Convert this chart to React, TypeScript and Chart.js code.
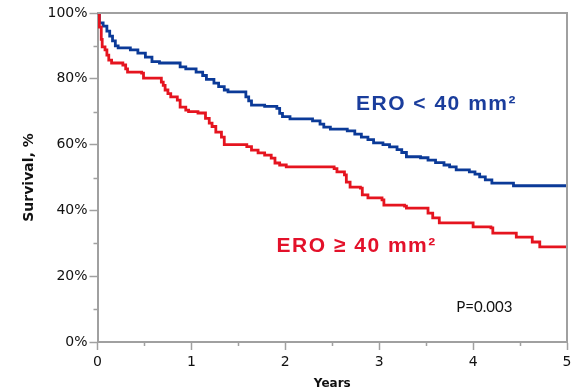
import React, { useEffect, useRef } from 'react';
import { Chart, registerables } from 'chart.js';

Chart.register(...registerables);

// Kaplan-Meier steps: time (years) of each drop and survival (%) after it
const blueTimes = [0, 0.02, 0.06, 0.10, 0.13, 0.16, 0.19, 0.22, 0.35, 0.43, 0.51, 0.58, 0.66, 0.88, 0.94, 1.05, 1.12, 1.16, 1.24, 1.29, 1.35, 1.39, 1.58, 1.61, 1.64, 1.78, 1.91, 1.94, 1.97, 2.05, 2.29, 2.37, 2.41, 2.48, 2.66, 2.74, 2.81, 2.88, 2.94, 3.04, 3.11, 3.19, 3.24, 3.29, 3.44, 3.52, 3.60, 3.69, 3.75, 3.82, 3.96, 4.02, 4.07, 4.13, 4.20, 4.43, 5.0];
const blueSurvival = [100, 97.0, 96.0, 94.5, 93.0, 91.5, 90.0, 89.4, 88.8, 87.8, 86.6, 85.2, 84.8, 83.6, 83.0, 82.0, 81.0, 79.8, 78.7, 77.6, 76.6, 76.0, 74.5, 73.3, 72.0, 71.6, 71.0, 69.5, 68.5, 67.8, 67.2, 66.2, 65.3, 64.7, 64.2, 63.2, 62.3, 61.5, 60.5, 60.0, 59.3, 58.5, 57.6, 56.3, 56.0, 55.3, 54.5, 53.8, 53.2, 52.3, 51.7, 51.0, 50.2, 49.3, 48.3, 47.5, 47.5];

const redTimes = [0, 0.02, 0.04, 0.05, 0.08, 0.10, 0.12, 0.15, 0.27, 0.30, 0.32, 0.47, 0.49, 0.68, 0.70, 0.72, 0.75, 0.78, 0.85, 0.88, 0.94, 0.97, 1.07, 1.15, 1.19, 1.22, 1.26, 1.32, 1.35, 1.59, 1.64, 1.71, 1.78, 1.85, 1.89, 1.94, 2.01, 2.52, 2.55, 2.63, 2.65, 2.69, 2.80, 2.82, 2.88, 3.03, 3.05, 3.27, 3.29, 3.52, 3.57, 3.64, 4.00, 4.19, 4.21, 4.46, 4.63, 4.71, 5.0];
const redSurvival = [100, 95.7, 92.0, 89.7, 88.8, 87.2, 85.7, 84.8, 84.2, 83.0, 82.0, 81.7, 80.2, 79.0, 78.0, 76.6, 75.5, 74.5, 73.5, 71.4, 70.5, 70.0, 69.6, 68.0, 66.5, 65.5, 63.8, 62.3, 60.0, 59.4, 58.3, 57.5, 56.8, 55.9, 54.4, 53.8, 53.2, 52.7, 51.7, 50.8, 48.6, 47.1, 46.8, 44.7, 43.8, 43.2, 41.6, 41.3, 40.7, 39.2, 37.7, 36.2, 35.0, 34.7, 33.1, 31.9, 30.4, 28.9, 28.9];

const xTickValues = [0, 1, 2, 3, 4, 5];
const yTickValues = [0, 20, 40, 60, 80, 100];
const yMinorTicks = [10, 30, 50, 70, 90];
const xMinorTicks = [0.5, 1.5, 2.5, 3.5, 4.5];

const seriesLabels = ['ERO < 40 mm²', 'ERO ≥ 40 mm²'];
const pValueText = 'P=0.003';

const BLUE = '#0b3a98';
const RED = '#e5141f';
const AXIS = '#a0a0a0';

const labelNotes = [
  { text: seriesLabels[0], x: 3.61, y: 72.3, color: '#1a3d9c', font: 'bold 21px "Liberation Sans"', spacing: '1.5px' },
  { text: seriesLabels[1], x: 2.76, y: 29.2, color: '#e3112a', font: 'bold 21px "Liberation Sans"', spacing: '1.5px' },
  { text: pValueText, x: 4.12, y: 10.6, color: '#111111', font: '15px Lato', spacing: '0px' },
];

const toPoints = (times: number[], vals: number[]) => times.map((t, i) => ({ x: t, y: vals[i] }));

const framePlugin = {
  id: 'frameAndNotes',
  afterDraw(chart: any) {
    const { ctx, chartArea, scales } = chart;
    const xs = scales.x;
    const ys = scales.y;
    ctx.save();
    ctx.strokeStyle = AXIS;
    ctx.lineWidth = 2;
    ctx.beginPath();
    ctx.moveTo(chartArea.left, chartArea.top);
    ctx.lineTo(chartArea.right, chartArea.top);
    ctx.lineTo(chartArea.right, chartArea.bottom);
    ctx.stroke();
    ctx.lineWidth = 1.5;
    ctx.beginPath();
    yMinorTicks.forEach((v) => {
      const py = Math.round(ys.getPixelForValue(v)) + 0.5;
      ctx.moveTo(chartArea.left - 4, py);
      ctx.lineTo(chartArea.left, py);
    });
    xMinorTicks.forEach((v) => {
      const px = Math.round(xs.getPixelForValue(v)) + 0.5;
      ctx.moveTo(px, chartArea.bottom);
      ctx.lineTo(px, chartArea.bottom + 4);
    });
    ctx.stroke();
    labelNotes.forEach((n) => {
      ctx.font = n.font;
      (ctx as any).letterSpacing = n.spacing;
      ctx.fillStyle = n.color;
      ctx.textAlign = 'center';
      ctx.textBaseline = 'middle';
      ctx.fillText(n.text, xs.getPixelForValue(n.x), ys.getPixelForValue(n.y));
    });
    ctx.restore();
  },
};

export default function App() {
  const ref = useRef<HTMLCanvasElement | null>(null);
  useEffect(() => {
    document.body.style.margin = '0';
    const canvas = ref.current;
    if (!canvas) return;
    const chart = new Chart(canvas, {
      type: 'scatter',
      data: {
        datasets: [
          {
            label: seriesLabels[1],
            data: toPoints(redTimes, redSurvival),
            showLine: true,
            stepped: 'before',
            borderColor: RED,
            borderWidth: 2.8,
            pointRadius: 0,
            fill: false,
          },
          {
            label: seriesLabels[0],
            data: toPoints(blueTimes, blueSurvival),
            showLine: true,
            stepped: 'before',
            borderColor: BLUE,
            borderWidth: 2.8,
            pointRadius: 0,
            fill: false,
          },
        ],
      },
      options: {
        animation: false,
        responsive: false,
        maintainAspectRatio: false,
        layout: { padding: { left: 0, right: 9, top: 13, bottom: 0 } },
        plugins: { legend: { display: false }, tooltip: { enabled: false } },
        scales: {
          x: {
            type: 'linear',
            min: 0,
            max: 5,
            afterFit: (s: any) => { s.height = 50; },
            afterBuildTicks: (s: any) => { s.ticks = xTickValues.map((v) => ({ value: v })); },
            ticks: {
              color: '#111',
              font: { family: '"DejaVu Sans"', size: 14 },
              padding: 4,
              callback: (v: any) => String(v),
            },
            grid: { drawOnChartArea: false, drawTicks: true, tickLength: 8, tickColor: AXIS, tickWidth: 1.5 },
            border: { display: true, color: AXIS, width: 2 },
            title: {
              display: true,
              text: 'Years',
              color: '#111',
              font: { family: '"DejaVu Sans"', size: 12, weight: 'bold' },
              padding: { top: 0, bottom: 1 },
            },
          },
          y: {
            type: 'linear',
            min: 0,
            max: 100,
            afterFit: (s: any) => { s.width = 97.5; },
            afterBuildTicks: (s: any) => { s.ticks = yTickValues.map((v) => ({ value: v })); },
            ticks: {
              color: '#111',
              font: { family: '"DejaVu Sans"', size: 14 },
              padding: 2,
              callback: (v: any) => v + '%',
            },
            grid: { drawOnChartArea: false, drawTicks: true, tickLength: 8, tickColor: AXIS, tickWidth: 1.5 },
            border: { display: true, color: AXIS, width: 2 },
            title: {
              display: true,
              text: 'Survival, %',
              color: '#111',
              font: { family: '"DejaVu Sans"', size: 14, weight: 'bold' },
              padding: { top: 21, bottom: 0 },
            },
          },
        },
      },
      plugins: [framePlugin],
    } as any);
    return () => chart.destroy();
  }, []);
  return <canvas ref={ref} width={576} height={392} style={{ display: 'block', width: 576, height: 392 }} />;
}
